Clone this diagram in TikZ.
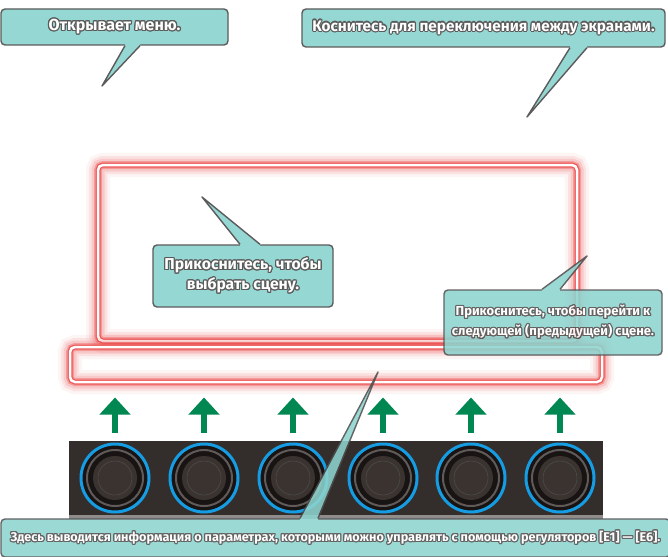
\documentclass[tikz,border=0pt]{standalone}
\usepackage{fontspec}
\setmainfont{Fira Sans}
\newfontfamily\callfont{Fira Sans}
\usepackage{contour}
\contourlength{1.1pt}
\usetikzlibrary{positioning,calc,arrows.meta}

\definecolor{callfill}{RGB}{141,212,207}
\definecolor{calledge}{RGB}{78,78,78}
\definecolor{glowred}{RGB}{236,72,72}
\definecolor{arrowgreen}{RGB}{0,135,82}
\definecolor{knobblue}{RGB}{22,156,226}
\definecolor{panelgray}{RGB}{51,46,44}
\definecolor{knobdark}{RGB}{24,20,19}
\definecolor{ringgray}{RGB}{96,90,88}
\definecolor{knobtop}{RGB}{58,51,48}

\newcommand\ctext[1]{\contour{calledge}{#1}}
\newcommand\calltail[5]{%
  \fill[callfill] ($(#3,0 |- #1.#2)!2pt!(#3,0 |- #1.center)$) -- (#3,0 |- #1.#2) -- (#5)
    -- (#4,0 |- #1.#2) -- ($(#4,0 |- #1.#2)!2pt!(#4,0 |- #1.center)$) -- cycle;
  \draw[draw=calledge,line width=1.4pt,line join=round] (#3,0 |- #1.#2) -- (#5) -- (#4,0 |- #1.#2);
}

\begin{document}
\begin{tikzpicture}[x=1pt,y=-1pt,
    callbox/.style={draw=calledge,fill=callfill,line width=1.4pt,rounded corners=4pt,
                    text=white,font=\callfont\bfseries\fontsize{15.7}{20}\selectfont,align=center,inner sep=0pt},
    glowline/.style={draw=glowred,rounded corners=5pt},
    knob/.style={circle,draw=knobblue,fill=knobdark,line width=3pt,minimum size=68pt,inner sep=0pt},
    uparrow/.style={draw=arrowgreen,line width=6pt,-{Triangle[width=30pt,length=17pt]}}]
  \clip (0,0) rectangle (668,556);
  \fill[white] (0,0) rectangle (668,556);

  \coordinate (scene-nw) at (98,165);
  \coordinate (scene-se) at (577,341);
  \coordinate (param-nw) at (70,347);
  \coordinate (param-se) at (602,382);
  \foreach \a/\b in {scene-nw/scene-se,param-nw/param-se}{
    \foreach \w/\o in {24/0.06,18/0.1,13/0.16,8/0.35,5/0.8}
      \draw[glowline,line width=\w pt,opacity=\o] (\a) rectangle (\b);
    \draw[white,line width=2.5pt,rounded corners=5pt] (\a) rectangle (\b);
  }

  \fill[panelgray] (69,441) rectangle (603,519);
  \fill[panelgray!55!white] (69,515) rectangle (603,519);
  \foreach \x [count=\i] in {115,204,293,383,471,560}{
    \node[knob] (k\i) at (\x,478) {};
    \draw[ringgray,line width=2pt] (k\i) circle (28pt);
    \fill[knobtop] (k\i) circle (22pt);
    \draw[black!70,line width=0.6pt] (k\i) circle (17pt);
    \draw[uparrow] ([yshift=10pt]k\i.north) -- ([yshift=45pt]k\i.north);
  }

  \begin{scope}[transparency group,opacity=0.92]
    \node[callbox,font=\callfont\bfseries\fontsize{16}{20}\selectfont,minimum width=227pt,minimum height=36pt] (menu) at (114.5,27) {\ctext{Открывает меню.}};
    \coordinate (menu-tip) at (102,86);
    \calltail{menu}{south}{125}{140}{menu-tip}
  \end{scope}
  \begin{scope}[transparency group,opacity=0.92]
    \node[callbox,font=\callfont\bfseries\fontsize{15.3}{20}\selectfont,minimum width=363pt,minimum height=38pt] (swap) at (483.5,28) {\ctext{Коснитесь для переключения между экранами.}};
    \coordinate (swap-tip) at (527,117);
    \calltail{swap}{south}{570}{587}{swap-tip}
  \end{scope}
  \begin{scope}[transparency group,opacity=0.92]
    \node[callbox,minimum width=180pt,minimum height=62pt] (pick) at (243,276) {\ctext{Прикоснитесь, чтобы}\\\ctext{выбрать сцену.}};
    \coordinate (pick-tip) at (202,197);
    \calltail{pick}{north}{240}{260}{pick-tip}
  \end{scope}
  \begin{scope}[transparency group,opacity=0.88]
    \node[callbox,font=\callfont\bfseries\fontsize{13}{20}\selectfont,minimum width=218pt,minimum height=65pt] (next) at (553,322.5) {\ctext{Прикоснитесь, чтобы перейти к}\\\ctext{следующей (предыдущей) сцене.}};
    \coordinate (next-tip) at (587,256);
    \calltail{next}{north}{542}{560}{next-tip}
  \end{scope}
  \begin{scope}[transparency group,opacity=0.88]
    \node[callbox,font=\callfont\bfseries\fontsize{12.6}{15}\selectfont,minimum width=669pt,minimum height=38pt] (info) at (335.5,538) {\ctext{Здесь выводится информация о параметрах, которыми можно управлять с помощью регуляторов [E1] — [E6].}};
    \coordinate (info-tip) at (378,372);
    \calltail{info}{north}{300}{318}{info-tip}
  \end{scope}
\end{tikzpicture}
\end{document}
